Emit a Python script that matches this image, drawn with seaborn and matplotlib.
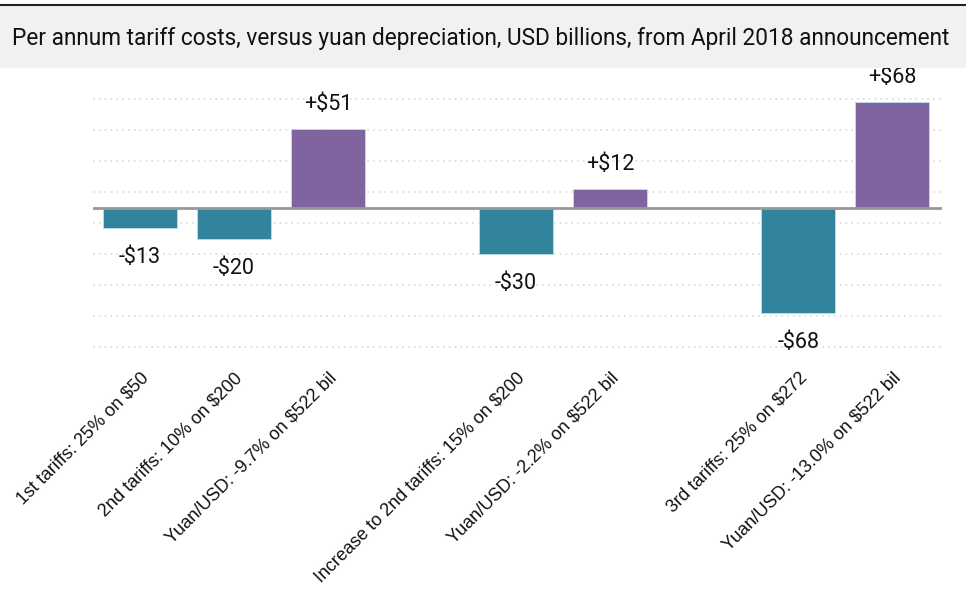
import matplotlib
matplotlib.use("Agg")
import matplotlib.pyplot as plt
import seaborn as sns
import pandas as pd

# ---- data ----
labels = [
    "1st tariffs: 25% on $50",
    "2nd tariffs: 10% on $200",
    "Yuan/USD: -9.7% on $522 bil",
    "Increase to 2nd tariffs: 15% on $200",
    "Yuan/USD: -2.2% on $522 bil",
    "3rd tariffs: 25% on $272",
    "Yuan/USD: -13.0% on $522 bil",
]
values = [-13, -20, 51, -30, 12, -68, 68]
kinds = ["Tariffs", "Tariffs", "Yuan", "Tariffs", "Yuan", "Tariffs", "Yuan"]
order = [labels[0], labels[1], labels[2], "gap1", labels[3], labels[4], "gap2", labels[5], labels[6]]
title = "Per annum tariff costs, versus yuan depreciation, USD billions, from April 2018 announcement"

palette = {"Tariffs": "#31849B", "Yuan": "#8064A0"}

df = pd.DataFrame({"label": labels, "value": values, "kind": kinds})

sns.set_theme(style="white")
narrow = ["Liberation Sans Narrow", "Roboto", "DejaVu Sans"]
plt.rcParams["font.family"] = ["Liberation Sans", "DejaVu Sans"]

fig = plt.figure(figsize=(9.66, 6.0), dpi=100)
ax = fig.add_axes([93 / 966, 250 / 600, 849 / 966, 257 / 600])

sns.barplot(data=df, x="label", y="value", hue="kind", order=order,
            palette=palette, saturation=1, width=0.79, dodge=False, legend=False,
            edgecolor="#bfe0ea", linewidth=0.6, ax=ax)

# value labels
for cont in ax.containers:
    pos_labs, neg_labs = [], []
    for bar in cont:
        h = bar.get_height()
        pos_labs.append(f"+${h:.0f}" if h > 0 else "")
        neg_labs.append(f"-${abs(h):.0f}" if h < 0 else "")
    ax.bar_label(cont, labels=pos_labs, padding=10, fontsize=15.5,
                 family=narrow, color="#111111", clip_on=False)
    ax.bar_label(cont, labels=neg_labs, padding=14, fontsize=15.5,
                 family=narrow, color="#111111", clip_on=False)

ax.set_xlim(-0.5, 8.53)
ax.set_ylim(-92, 74)
ax.set_yticks([-90, -70, -50, -30, -10, 10, 30, 50, 70])
ax.set_yticklabels([])
ax.tick_params(axis="y", length=0)
ax.grid(axis="y", linestyle=(0, (1, 2.5)), color="#d9d9d9", linewidth=1.2)
ax.set_axisbelow(True)
ax.axhline(0, color="#999999", linewidth=2, zorder=3)
for s in ax.spines.values():
    s.set_visible(False)

ax.set_xticks(range(len(order)))
ax.set_xticklabels([o if not o.startswith("gap") else "" for o in order],
                   rotation=45, ha="right", rotation_mode="anchor",
                   fontsize=13, color="#111111")
ax.tick_params(axis="x", length=0, pad=14)
ax.set_xlabel("")
ax.set_ylabel("")

# title bar
fig.patches.append(plt.Rectangle((0, 1 - 68 / 600), 1, 63 / 600, transform=fig.transFigure,
                                 facecolor="#f1f1f1", edgecolor="none", zorder=0))
fig.add_artist(plt.Line2D([0, 1], [1 - 5 / 600, 1 - 5 / 600], transform=fig.transFigure,
                          color="#222222", linewidth=1.5))
fig.text(12 / 966, 1 - 38 / 600, title, fontsize=16.3, family=narrow,
         color="#111111", va="center", ha="left")

fig.savefig("out.png", dpi=100)
